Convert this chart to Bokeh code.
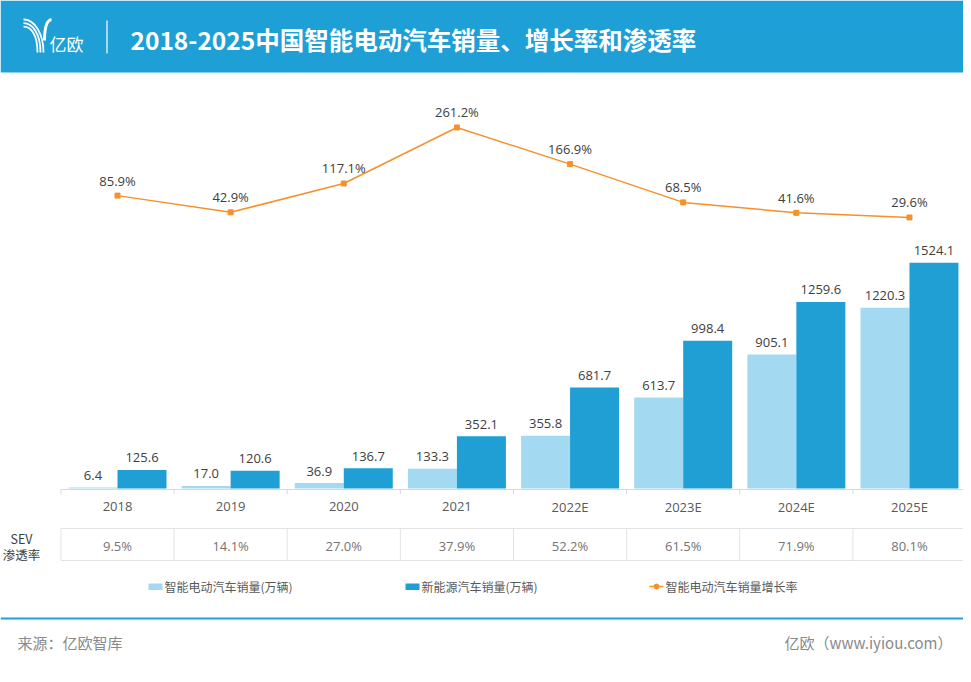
from bokeh.plotting import figure
from bokeh.models import Range1d, ColumnDataSource
from bokeh.core.properties import value
from bokeh.embed import file_html
from bokeh.resources import INLINE

# ---------------- data ----------------
years = ["2018", "2019", "2020", "2021", "2022E", "2023E", "2024E", "2025E"]
sev_sales = [6.4, 17.0, 36.9, 133.3, 355.8, 613.7, 905.1, 1220.3]      # 智能电动汽车销量(万辆)
nev_sales = [125.6, 120.6, 136.7, 352.1, 681.7, 998.4, 1259.6, 1524.1]  # 新能源汽车销量(万辆)
sev_growth = [85.9, 42.9, 117.1, 261.2, 166.9, 68.5, 41.6, 29.6]        # 增长率 %
sev_penetration = [9.5, 14.1, 27.0, 37.9, 52.2, 61.5, 71.9, 80.1]       # SEV 渗透率 %

title = "2018-2025中国智能电动汽车销量、增长率和渗透率"
legend_labels = ["智能电动汽车销量(万辆)", "新能源汽车销量(万辆)", "智能电动汽车销量增长率"]
source_text = "来源：亿欧智库"
brand_text = "亿欧（www.iyiou.com）"

# ---------------- styling ----------------
FONT = "Noto Sans CJK SC"
NUMFONT = "Open Sans"
BLUE_HDR = "#1e9fd6"
DARK = "#1f9fd4"
LIGHT = "#a3daf2"
ORANGE = "#f7902a"
TXT = "#404040"
GRID = "#e3e3e3"

W, H = 963, 666
p = figure(width=W, height=H, x_range=Range1d(0, W), y_range=Range1d(H, 0),
           output_backend="svg", toolbar_location=None, min_border=0,
           x_axis_location=None, y_axis_location=None, outline_line_color=None)
p.grid.visible = False
p.background_fill_color = "white"

# category scale
X0, SLOT = 117.0, 113.14
p.extra_x_ranges = {"cat": Range1d((0 - X0) / SLOT, (W - X0) / SLOT)}
# value scales
BASE, PPU = 488.0, 0.1481
R0, RPPU = 228.5, 0.3886
p.extra_y_ranges = {
    "sales": Range1d((BASE - H) / PPU, BASE / PPU),
    "rate": Range1d((R0 - H) / RPPU, R0 / RPPU),
}

n = len(years)
idx = list(range(n))
BW = 0.433
src = ColumnDataSource(dict(
    idx=idx,
    xl=[i - BW / 2 for i in idx],
    xr=[i + BW / 2 for i in idx],
    sev=sev_sales, nev=nev_sales,
    sev_t=[f"{v:.1f}" for v in sev_sales],
    nev_t=[f"{v:.1f}" for v in nev_sales],
    gr=sev_growth, gr_t=[f"{v:.1f}%" for v in sev_growth],
    pen_t=[f"{v:.1f}%" for v in sev_penetration],
    years=years,
))

# ---------------- header ----------------
p.quad(left=0, right=970, top=0, bottom=72, color=BLUE_HDR, line_color=None)
p.text(x=130, y=39, text=[title], text_font=value(FONT), text_font_size="24.5px",
       text_font_style="bold", text_color="white", text_baseline="middle", text_align="left")
p.text(x=49, y=43, text=["亿欧"], text_font=value(FONT), text_font_size="17px",
       text_color="white", text_baseline="middle", text_align="left")
p.segment(x0=106.5, y0=20, x1=106.5, y1=53, line_color="white", line_width=1.2)
# logo glyph
for i in range(3):
    y0 = 19 + 3.6 * i
    x1 = 43 - 3 * i
    p.bezier(x0=23, y0=y0, x1=x1, y1=52, cx0=34 - 2 * i, cy0=y0, cx1=x1, cy1=33,
             line_color="white", line_width=1.8)
p.bezier(x0=51, y0=19, x1=44, y1=40, cx0=45, cy0=20, cx1=44, cy1=30,
         line_color="white", line_width=3)

# ---------------- bars ----------------
p.vbar(x="xl", width=BW, top="sev", bottom=0, source=src, x_range_name="cat",
       y_range_name="sales", fill_color=LIGHT, line_color=None)
p.vbar(x="xr", width=BW, top="nev", bottom=0, source=src, x_range_name="cat",
       y_range_name="sales", fill_color=DARK, line_color=None)
common = dict(text_font=value(NUMFONT), text_font_size="13px", text_color=TXT,
              text_align="center", text_baseline="alphabetic")
p.text(x="xl", y="sev", text="sev_t", source=src, x_range_name="cat",
       y_range_name="sales", y_offset=-12, **common)
p.text(x="xr", y="nev", text="nev_t", source=src, x_range_name="cat",
       y_range_name="sales", y_offset=-12, **common)

# ---------------- growth line ----------------
p.line(x="idx", y="gr", source=src, x_range_name="cat", y_range_name="rate",
       line_color=ORANGE, line_width=1.5)
p.scatter(x="idx", y="gr", source=src, x_range_name="cat", y_range_name="rate",
          marker="square", size=5, fill_color=ORANGE, line_color=ORANGE)
p.text(x="idx", y="gr", text="gr_t", source=src, x_range_name="cat",
       y_range_name="rate", y_offset=-15, **common)

# ---------------- axis / table ----------------
bounds = [i - 0.5 for i in range(n + 1)]
p.segment(x0=-0.5, y0=489, x1=n - 0.5, y1=489, x_range_name="cat",
          line_color="#d9d9d9", line_width=1)
p.segment(x0=bounds, y0=[489] * len(bounds), x1=bounds, y1=[494] * len(bounds),
          x_range_name="cat", line_color="#d9d9d9", line_width=1)
p.text(x="idx", y=506, text="years", source=src, x_range_name="cat",
       text_font=value(NUMFONT), text_font_size="13px", text_color="#595959",
       text_align="center", text_baseline="middle")
p.segment(x0=[-0.5, -0.5], y0=[528, 560], x1=[n - 0.5, n - 0.5], y1=[528, 560],
          x_range_name="cat", line_color=GRID, line_width=1)
p.segment(x0=bounds, y0=[528] * len(bounds), x1=bounds, y1=[560] * len(bounds),
          x_range_name="cat", line_color=GRID, line_width=1)
p.text(x="idx", y=545, text="pen_t", source=src, x_range_name="cat",
       text_font=value(NUMFONT), text_font_size="13px", text_color="#747474",
       text_align="center", text_baseline="middle")
p.text(x=21, y=[538, 554], text=["SEV", "渗透率"], text_font=value(FONT),
       text_font_size="12.5px", text_color=TXT, text_align="center", text_baseline="middle")

# ---------------- legend ----------------
leg = dict(text_font=value(FONT), text_font_size="12px", text_color="#595959",
           text_align="left", text_baseline="middle")
p.quad(left=148, right=162, top=583, bottom=589.5, color=LIGHT, line_color=None)
p.text(x=164, y=586, text=[legend_labels[0]], **leg)
p.quad(left=405, right=419, top=583, bottom=589.5, color=DARK, line_color=None)
p.text(x=421, y=586, text=[legend_labels[1]], **leg)
p.segment(x0=649, y0=586, x1=663, y1=586, line_color=ORANGE, line_width=1.5)
p.scatter(x=[656], y=[586], marker="circle", size=5, fill_color=ORANGE, line_color=ORANGE)
p.text(x=665, y=586, text=[legend_labels[2]], **leg)

# ---------------- footer ----------------
p.segment(x0=0, y0=618, x1=970, y1=618, line_color="#1ea0dc", line_width=2)
p.text(x=17, y=642, text=[source_text], text_font=value(FONT), text_font_size="15px",
       text_color="#8a8a8a", text_align="left", text_baseline="middle")
p.text(x=952, y=642, text=[brand_text], text_font=value(FONT), text_font_size="15px",
       text_color="#8a8a8a", text_align="right", text_baseline="middle")

open("out.html", "w").write(file_html(p, INLINE))
